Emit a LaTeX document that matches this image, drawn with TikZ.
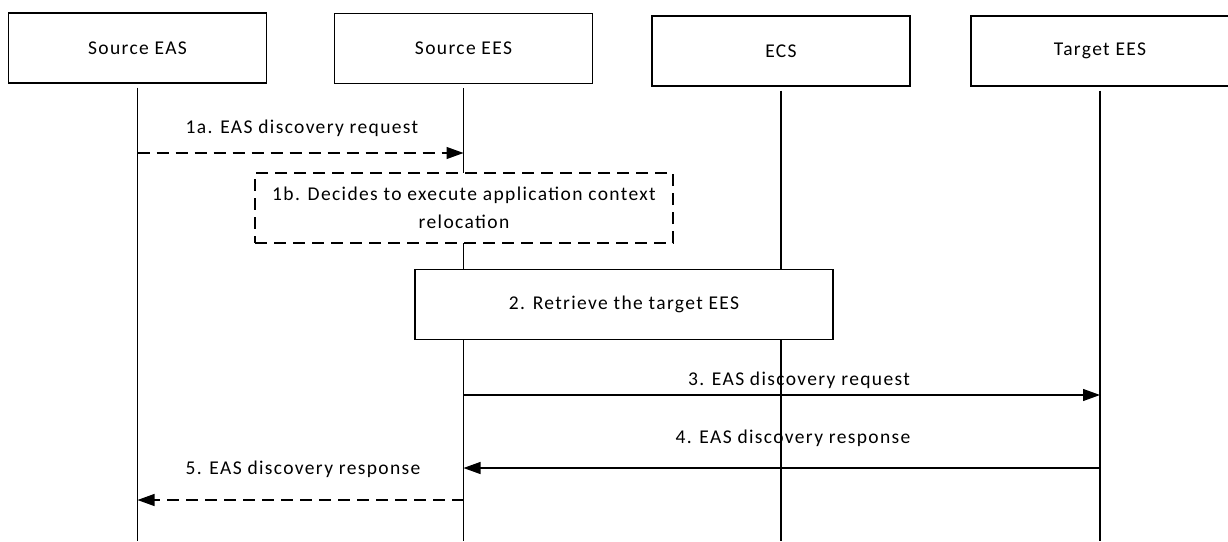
\documentclass[tikz,border=0pt]{standalone}
\usepackage{fontspec}
\setmainfont{Carlito}[LetterSpace=7]
\usetikzlibrary{arrows.meta}
\begin{document}
\begin{tikzpicture}[x=1pt,y=-1pt,
  font=\fontsize{19.5}{28}\selectfont,
  actor/.style={draw,line width=1.2pt,minimum width=258pt,minimum height=70pt,fill=white,inner sep=0pt},
  life/.style={line width=1.2pt},
  proc/.style={draw,line width=1.2pt,fill=white,inner sep=0pt,minimum width=418pt,minimum height=70pt,align=center},
  dproc/.style={proc,dash pattern=on 12pt off 7pt},
  msg/.style={line width=1.2pt,-{Triangle[length=17pt,width=12pt]}},
  dmsg/.style={msg,dash pattern=on 12pt off 7pt},
  lbl/.style={inner sep=0pt,anchor=center}]
\useasboundingbox (0,0) rectangle (1228,541);
% actors
\node[actor] (seas) at (137.5,48) {Source EAS};
\node[actor] (sees) at (463.5,48.5) {Source EES};
\node[actor] (ecs) at (781,51) {ECS};
\node[actor] (tees) at (1100,51) {Target EES};
% lifeline ends
\coordinate (seasB) at (seas.south |- 0,541);
\coordinate (seesB) at (sees.south |- 0,541);
\coordinate (ecsB) at (ecs.south |- 0,541);
\coordinate (teesB) at (tees.south |- 0,541);
\draw[life] ([yshift=-4pt]seas.south) -- (seasB);
\draw[life] ([yshift=-4pt]sees.south) -- (seesB);
\draw[life] ([yshift=-4pt]ecs.south) -- (ecsB);
\draw[life] ([yshift=-4pt]tees.south) -- (teesB);
% 1a
\coordinate (m1s) at (seas.south |- 0,153);
\coordinate (m1e) at (sees.south |- 0,153);
\draw[dmsg] (m1s) -- (m1e);
\node[lbl] (l1a) at (302,128) {1a. EAS discovery request};
% 1b
\node[dproc] (p1b) at (464,208) {1b. Decides to execute application context\\relocation};
% 2
\node[proc] (p2) at (624,304.5) {2. Retrieve the target EES};
% 3
\coordinate (m3s) at (sees.south |- 0,395);
\coordinate (m3e) at (tees.south |- 0,395);
\draw[msg] (m3s) -- (m3e);
\node[lbl] (l3) at (799,380) {3. EAS discovery request};
% 4
\coordinate (m4s) at (tees.south |- 0,468);
\coordinate (m4e) at (sees.south |- 0,468);
\draw[msg] (m4s) -- (m4e);
\node[lbl] (l4) at (793,438) {4. EAS discovery response};
% 5
\coordinate (m5s) at (sees.south |- 0,500);
\coordinate (m5e) at (seas.south |- 0,500);
\draw[dmsg] (m5s) -- (m5e);
\node[lbl] (l5) at (303,469) {5. EAS discovery response};
\end{tikzpicture}
\end{document}
